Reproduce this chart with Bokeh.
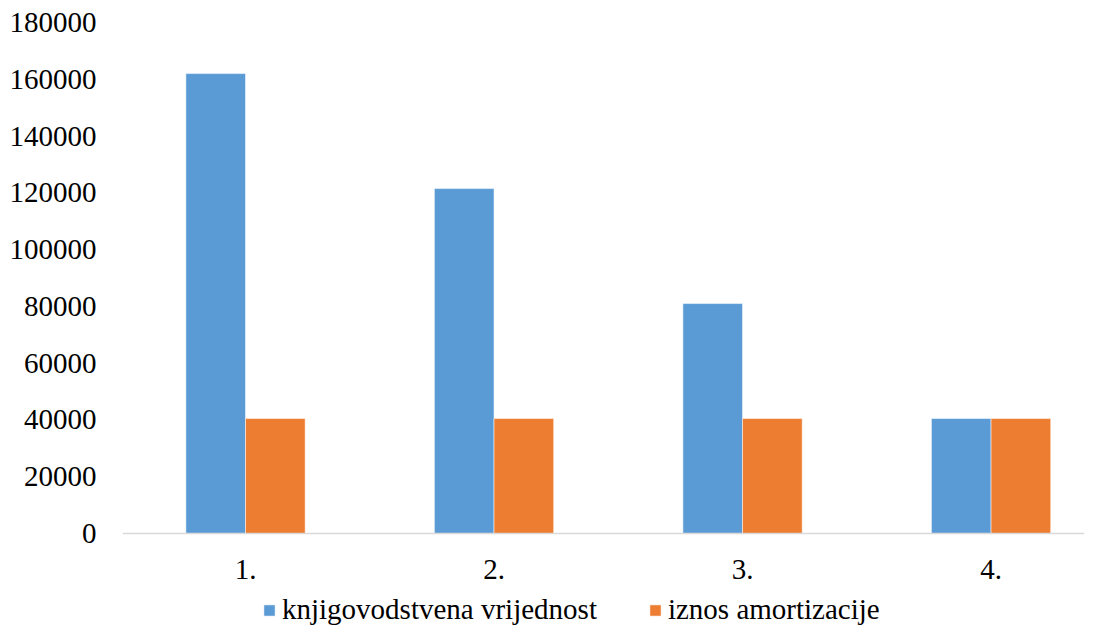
from bokeh.plotting import figure
from bokeh.models import Range1d, Legend, LegendItem, FixedTicker
from bokeh.core.properties import value
from bokeh.embed import file_html
from bokeh.resources import INLINE

categories = ["1.", "2.", "3.", "4."]
knjigovodstvena = [162000, 121500, 81000, 40500]
amortizacija = [40500, 40500, 40500, 40500]
y_ticks = [0, 20000, 40000, 60000, 80000, 100000, 120000, 140000, 160000, 180000]

FONT = "Liberation Serif"
LEGEND_FONT = "'Liberation Serif', serif"
BLUE = "#5B9BD5"
ORANGE = "#ED7D31"

xs = list(range(1, len(categories) + 1))

# frame spans from top border down to canvas bottom; 180000 units = 511 px
FRAME_H = 605
Y_MIN = -(FRAME_H - 511) / 511 * 180000

p = figure(frame_width=962, frame_height=FRAME_H, output_backend="svg", toolbar_location=None,
           x_range=Range1d(0.505, 4.376), y_range=Range1d(Y_MIN, 180000),
           min_border_left=122, min_border_top=22, min_border_right=4, min_border_bottom=0)

r1 = p.vbar(x=[x - 0.12 for x in xs], top=knjigovodstvena, width=0.24, fill_color=BLUE,
            line_color="white", line_width=1, line_alpha=0.5)
r2 = p.vbar(x=[x + 0.12 for x in xs], top=amortizacija, width=0.24, fill_color=ORANGE,
            line_color="white", line_width=1, line_alpha=0.5)

p.xgrid.visible = False
p.ygrid.visible = False
p.outline_line_color = None

p.xaxis.fixed_location = 0
p.xaxis.ticker = FixedTicker(ticks=xs)
p.xaxis.major_label_overrides = {x: c for x, c in zip(xs, categories)}
p.xaxis.axis_line_color = "#d9d9d9"
p.xaxis.axis_line_width = 1.5
p.xaxis.major_tick_line_color = None
p.xaxis.minor_tick_line_color = None
p.xaxis.major_label_standoff = 20
p.xaxis.major_label_text_font = FONT
p.xaxis.major_label_text_font_size = "29px"
p.xaxis.major_label_text_color = "black"

p.yaxis.ticker = FixedTicker(ticks=y_ticks)
p.yaxis.axis_line_color = None
p.yaxis.major_tick_line_color = None
p.yaxis.minor_tick_line_color = None
p.yaxis.major_label_standoff = 20
p.yaxis.major_label_text_font = FONT
p.yaxis.major_label_text_font_size = "29px"
p.yaxis.major_label_text_color = "black"
p.yaxis.formatter.use_scientific = False

legend = Legend(items=[LegendItem(label="knjigovodstvena vrijednost", renderers=[r1]),
                       LegendItem(label="iznos amortizacije", renderers=[r2])],
                orientation="horizontal", location=(140, 1),
                glyph_width=14, glyph_height=14, label_standoff=6, spacing=51,
                padding=0, margin=0, border_line_color=None, background_fill_alpha=0,
                label_text_font_size="29px", label_text_color="black")
try:
    legend.label_text_font = value(LEGEND_FONT)
except Exception:
    legend.label_text_font = LEGEND_FONT
p.add_layout(legend, "center")

open("out.html", "w").write(file_html(p, INLINE))
